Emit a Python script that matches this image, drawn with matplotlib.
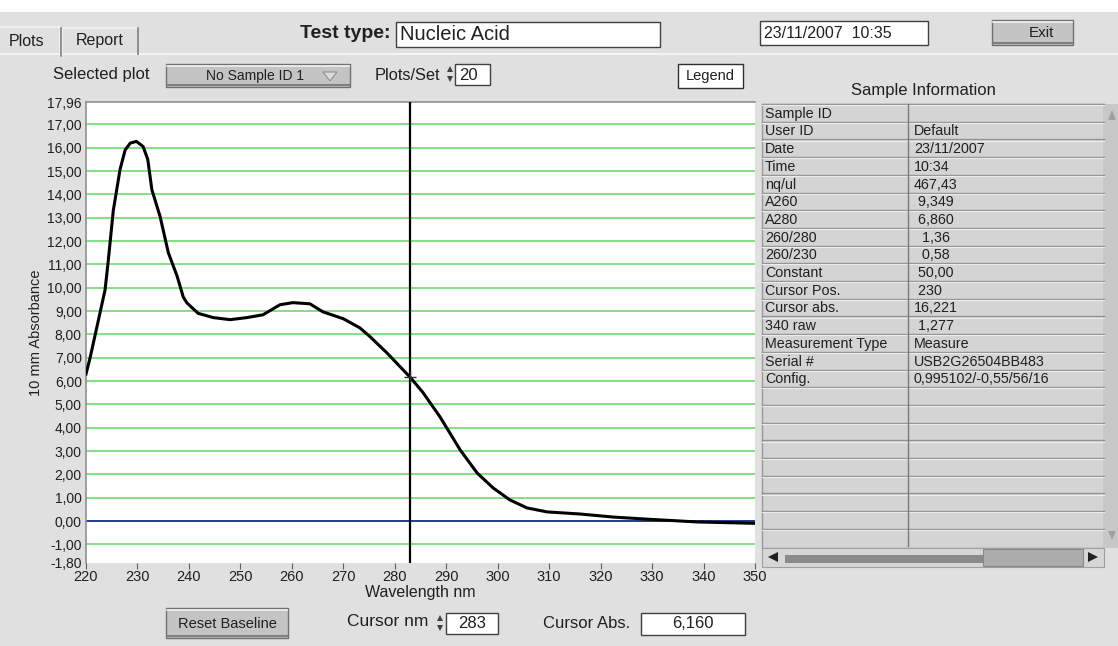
import matplotlib
matplotlib.use("Agg")
import matplotlib.pyplot as plt
from matplotlib.patches import Rectangle, Polygon

plt.rcParams['font.family'] = ['Liberation Sans', 'DejaVu Sans']

# spectrum
wavelength = [220.0, 220.8, 221.7, 222.7, 223.7, 224.3, 225.3, 226.6, 227.6, 228.6,
              229.8, 231.1, 232.0, 232.8, 234.4, 236.0, 237.7, 238.9, 239.6, 241.8,
              244.7, 248.0, 251.3, 254.4, 257.7, 260.2, 263.5, 266.0, 270.0, 273.2,
              275.2, 278.5, 283.0, 285.5, 288.8, 292.7, 296.0, 299.1, 302.4, 305.7,
              309.6, 316.0, 322.4, 329.0, 338.7, 350.0]
absorbance = [6.3, 7.0, 7.9, 8.9, 9.9, 11.1, 13.3, 15.05, 15.9, 16.2,
              16.27, 16.05, 15.5, 14.2, 13.05, 11.5, 10.5, 9.6, 9.35, 8.9,
              8.72, 8.63, 8.72, 8.84, 9.27, 9.36, 9.31, 8.97, 8.67, 8.28,
              7.9, 7.2, 6.16, 5.5, 4.46, 3.05, 2.06, 1.42, 0.9, 0.56,
              0.39, 0.3, 0.17, 0.08, -0.04, -0.1]
cursor_nm = 283
cursor_abs = 6.160
y_ticks = [-1.80, -1, 0, 1, 2, 3, 4, 5, 6, 7, 8, 9, 10, 11, 12, 13, 14, 15, 16, 17, 17.96]
x_ticks = [220, 230, 240, 250, 260, 270, 280, 290, 300, 310, 320, 330, 340, 350]

info_keys = ["Sample ID", "User ID", "Date", "Time", "nq/ul", "A260", "A280",
             "260/280", "260/230", "Constant", "Cursor Pos.", "Cursor abs.",
             "340 raw", "Measurement Type", "Serial #", "Config."]
info_vals = ["", "Default", "23/11/2007", "10:34", "467,43", " 9,349", " 6,860",
             "  1,36", "  0,58", " 50,00", " 230", "16,221", " 1,277", "Measure",
             "USB2G26504BB483", "0,995102/-0,55/56/16"]
empty_rows = 9

W, H = 1118, 646
BG = "#e0e0e0"
fig = plt.figure(figsize=(W / 100, H / 100), dpi=100, facecolor=BG)

# background layer in pixel coordinates for the window widgets
bg = fig.add_axes([0, 0, 1, 1])
bg.set_xlim(0, W)
bg.set_ylim(H, 0)
bg.axis("off")
bg.add_patch(Rectangle((0, 0), W, 12, fc="white", ec="none"))


def box(x, y, w, h, fc="white", ec="#404040", lw=1.0):
    bg.add_patch(Rectangle((x, y), w, h, fc=fc, ec=ec, lw=lw))


def button(x, y, w, h):
    bg.add_patch(Rectangle((x, y), w, h, fc="#c4c4c4", ec="#707070", lw=1.0))
    bg.plot([x + 1, x + w - 1], [y + 2, y + 2], color="#f0f0f0", lw=1.2)
    bg.plot([x + 1, x + w - 1], [y + h - 2, y + h - 2], color="#808080", lw=1.5)


def spinner(x, y):
    bg.add_patch(Polygon([[x, y + 8], [x + 6, y + 8], [x + 3, y + 2]], fc="#404040"))
    bg.add_patch(Polygon([[x, y + 12], [x + 6, y + 12], [x + 3, y + 18]], fc="#404040"))


txt = dict(color="#202020", va="center")

# tabs
bg.plot([0, W], [54, 54], color="#f4f4f4", lw=1.5)
bg.plot([0, 60, 60], [27, 27, 56], color="#f4f4f4", lw=1.2)
bg.plot([62, 62, 138], [55, 28, 28], color="#f4f4f4", lw=1.2)
bg.plot([138, 138], [28, 54], color="#808080", lw=1.2)
bg.plot([61, 61], [28, 56], color="#808080", lw=1.2)
bg.text(9, 42, "Plots", fontsize=11.5, **txt)
bg.text(76, 41, "Report", fontsize=11.5, **txt)

# header
bg.text(391, 34, "Test type:", fontsize=14, fontweight="bold", ha="right", **txt)
box(396, 22, 264, 25)
bg.text(400, 35, "Nucleic Acid", fontsize=14.5, **txt)
box(760, 21, 168, 24)
bg.text(764, 33, "23/11/2007  10:35", fontsize=11.5, **txt)
button(992, 20, 81, 25)
bg.text(1041, 33, "Exit", fontsize=11, ha="center", **txt)

# controls above the chart
bg.text(53, 75, "Selected plot", fontsize=12, **txt)
button(166, 64, 184, 23)
bg.text(255, 76, "No Sample ID 1", fontsize=10, ha="center", **txt)
bg.add_patch(Polygon([[323, 72], [337, 72], [330, 81]], fc="#dcdcdc", ec="#909090", lw=0.8))
bg.text(375, 75, "Plots/Set", fontsize=11.8, **txt)
spinner(447, 64)
box(455, 64, 35, 21)
bg.text(459, 75, "20", fontsize=12, **txt)
box(678, 64, 65, 24, ec="#303030")
bg.text(710, 76, "Legend", fontsize=10.5, ha="center", **txt)
bg.text(923, 90, "Sample Information", fontsize=12, ha="center", **txt)

# controls below the chart
button(166, 608, 122, 30)
bg.text(227, 624, "Reset Baseline", fontsize=10.5, ha="center", **txt)
bg.text(347, 622, "Cursor nm", fontsize=12.5, **txt)
spinner(437, 613)
box(446, 613, 52, 21)
bg.text(472, 624, str(cursor_nm), fontsize=12, ha="center", **txt)
bg.text(543, 624, "Cursor Abs.", fontsize=12, **txt)
box(641, 613, 104, 22)
bg.text(693, 624, f"{cursor_abs:.3f}".replace(".", ","), fontsize=12, ha="center", **txt)

# sample information table
tx0, tx1, tcol, ty0, rh = 762, 1104, 908, 104, 17.7
n_rows = len(info_keys) + empty_rows
bg.add_patch(Rectangle((tx0, ty0), tx1 - tx0, 548 - ty0, fc="#d4d4d4", ec="#9a9a9a", lw=1))
for i in range(n_rows + 1):
    yy = ty0 + i * rh
    if yy > 546:
        break
    bg.plot([tx0, tx1], [yy, yy], color="#939393", lw=1.0)
    bg.plot([tx0, tx1], [yy + 1.2, yy + 1.2], color="#ececec", lw=0.8)
bg.plot([tcol, tcol], [ty0, 546], color="#7a7a7a", lw=1.0)
for i, (k, v) in enumerate(zip(info_keys, info_vals)):
    yc = ty0 + (i + 0.55) * rh
    bg.text(tx0 + 3, yc, k, fontsize=10.3, **txt)
    bg.text(tcol + 6, yc, v, fontsize=10.3, **txt)
# scrollbars
bg.add_patch(Rectangle((tx1, ty0), W - tx1, 548 - ty0, fc="#c8c8c8", ec="none"))
bg.add_patch(Polygon([[1108, 120], [1116, 120], [1112, 110]], fc="#a0a0a0"))
bg.add_patch(Polygon([[1108, 531], [1116, 531], [1112, 540]], fc="#a0a0a0"))
bg.add_patch(Rectangle((tx0, 548), tx1 - tx0, 19, fc="#d6d6d6", ec="#a0a0a0", lw=0.8))
bg.add_patch(Rectangle((785, 555), 198, 8, fc="#8a8a8a", ec="none"))
bg.add_patch(Rectangle((983, 549), 100, 17, fc="#acacac", ec="#8a8a8a", lw=0.8))
bg.add_patch(Polygon([[768, 557], [778, 552], [778, 562]], fc="#202020"))
bg.add_patch(Polygon([[1098, 557], [1088, 552], [1088, 562]], fc="#202020"))

# the absorbance chart
ax = fig.add_axes([86 / W, 1 - 563 / H, (755 - 86) / W, (563 - 102) / H])
ax.set_facecolor("white")
ax.set_xlim(x_ticks[0], x_ticks[-1])
ax.set_ylim(y_ticks[0], y_ticks[-1])
grid_levels = [t for t in y_ticks if float(t).is_integer() and t != 0]
ax.hlines(grid_levels, x_ticks[0], x_ticks[-1], color="#6edc6e", lw=1.2, zorder=1)
ax.axhline(0, color="#1f3c8c", lw=1.4, zorder=2)
ax.plot(wavelength, absorbance, color="black", lw=2.2, zorder=3,
        solid_joinstyle="round")
ax.axvline(cursor_nm, color="black", lw=1.6, zorder=4)
ax.plot([cursor_nm], [cursor_abs], marker="+", ms=9, mew=1, color="#303030", zorder=5)

ax.set_xticks(x_ticks)
ax.set_xticklabels([str(t) for t in x_ticks], fontsize=10.5, color="#202020")
ax.set_yticks(y_ticks)
ax.set_yticklabels([f"{t:.2f}".replace(".", ",") for t in y_ticks], fontsize=10, color="#202020")
ax.tick_params(axis="x", direction="out", length=4, color="#606060", pad=1)
ax.tick_params(axis="y", length=0, pad=3)
for side in ["top", "left"]:
    ax.spines[side].set_color("#909090")
    ax.spines[side].set_linewidth(1.2)
ax.spines["right"].set_visible(False)
ax.spines["bottom"].set_visible(False)
ax.set_xlabel("Wavelength nm", fontsize=11.5, color="#202020", labelpad=1)
ax.set_ylabel("10 mm Absorbance", fontsize=10.5, color="#202020", labelpad=3)

fig.savefig("out.png", dpi=100, facecolor=BG)
